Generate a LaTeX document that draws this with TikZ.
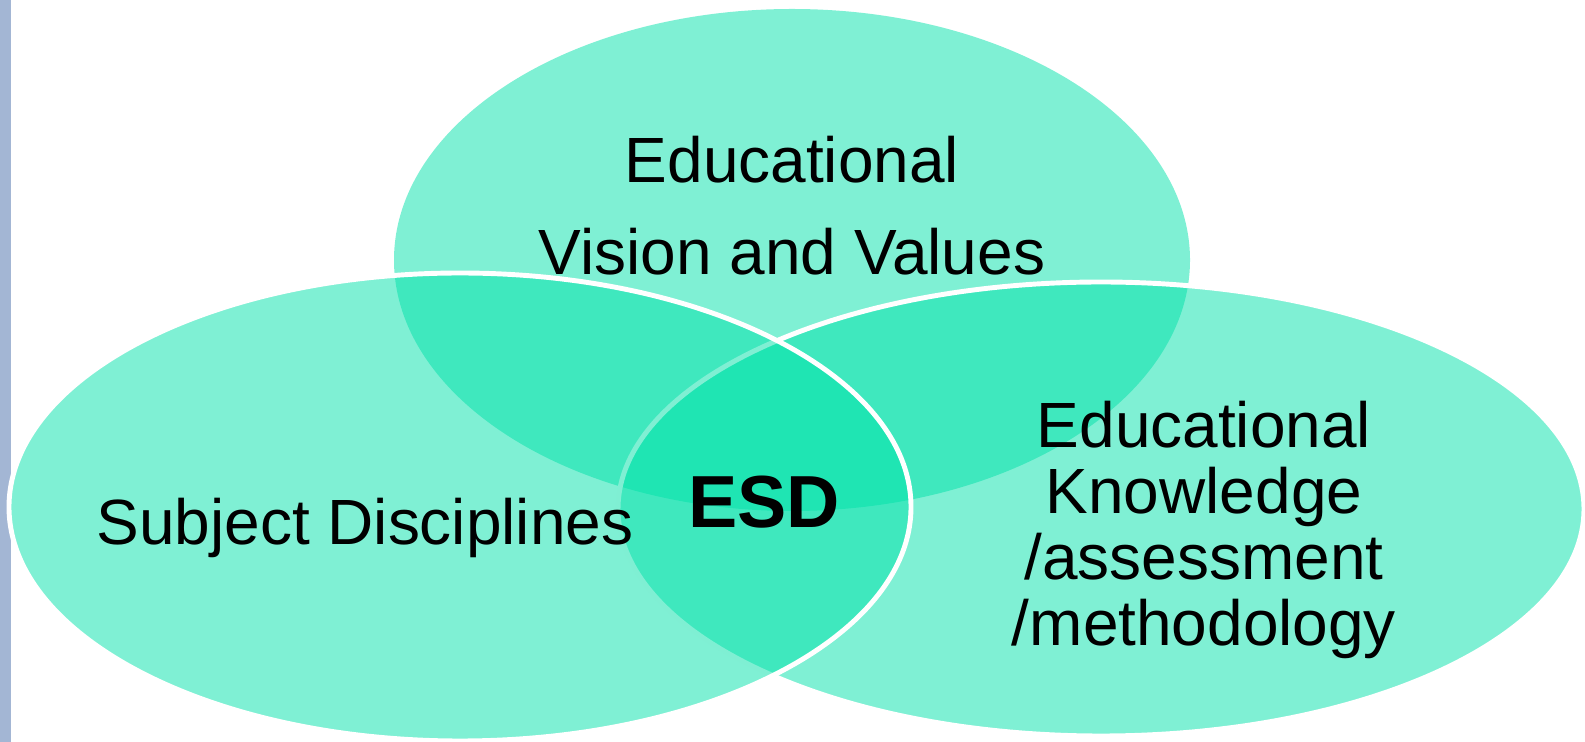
\documentclass[tikz,border=0pt]{standalone}
\usepackage{fontspec}
\setmainfont{Liberation Sans}
\usetikzlibrary{shapes.geometric,positioning}

\definecolor{vennfill}{RGB}{0,225,169}
\definecolor{stripblue}{RGB}{163,182,212}

\begin{document}
\begin{tikzpicture}[
    set/.style={ellipse, fill=vennfill, fill opacity=0.5, inner sep=0pt, outer sep=0pt},
    setline/.style={set, draw=white, line width=1.4pt},
    label/.style={text=black, inner sep=0pt, font=\fontsize{18.2}{26.1}\selectfont, align=center}
]
% frame (1 px = 0.01 cm)
\useasboundingbox (0,0) rectangle (15.85,7.42);
\fill[stripblue] (0,0) rectangle (0.11,7.42);

% The three sets, top first, left last
\node[set, minimum width=7.96cm, minimum height=5.02cm] (vision) at (7.92,4.82) {};
\node[setline, minimum width=9.66cm, minimum height=4.54cm] (knowledge) at (11.01,2.33) {};
\node[setline, minimum width=9.02cm, minimum height=4.68cm] (subjects) at (4.60,2.35) {};

% Labels
\node[label] (visiontext) at (7.92,5.36) {Educational\\Vision and Values};
\node[label, font=\fontsize{18.2}{18.8}\selectfont] (knowledgetext) at (12.04,2.12) {Educational\\Knowledge\\/assessment\\/methodology};
\node[label, anchor=base] (subjectstext) at (3.65,1.97) {Subject Disciplines};
\node[label, anchor=base, font=\fontsize{21}{25}\selectfont\bfseries] (esd) at (7.64,2.14) {ESD};

\end{tikzpicture}
\end{document}
